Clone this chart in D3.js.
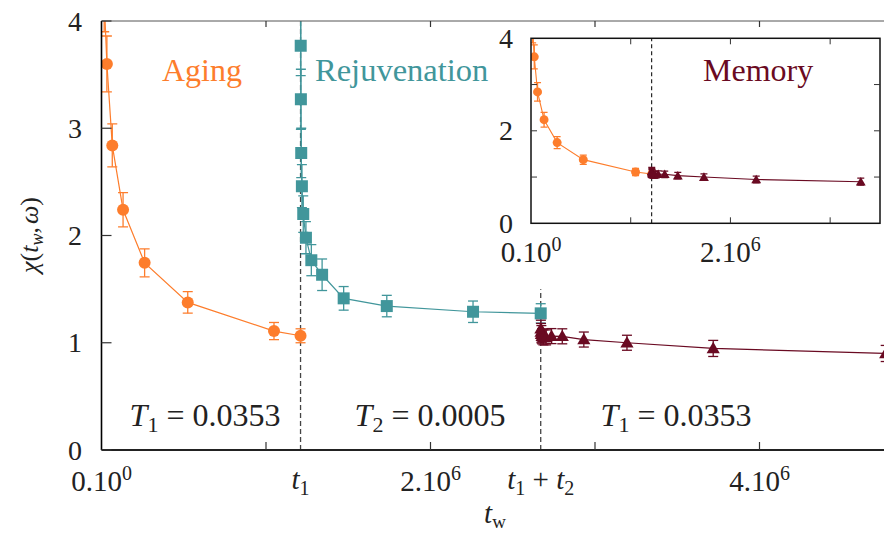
<!DOCTYPE html>
<html><head><meta charset="utf-8">
<script src="https://cdn.jsdelivr.net/npm/d3@7"></script>
<style>
html,body{margin:0;padding:0;background:#fff;}
</style></head>
<body>
<svg id="chart" width="884" height="536"></svg>
<script>
// ---- data ----
const t1 = 1.21e6, t2 = 1.46e6;
const agingT   = [16384, 32768, 65536, 131072, 262144, 524288, 1048576, 1210000];
const agingChi = [4.20, 3.60, 2.84, 2.24, 1.745, 1.376, 1.109, 1.065];
const agingErr = [0.30, 0.26, 0.20, 0.16, 0.13, 0.10, 0.08, 0.065];
const rejuvDt  = [512, 1024, 2048, 4096, 8192, 16384, 32768, 65536, 131072, 262144, 524288, 1048576, 1460000];
const rejuvChi = [4.40, 3.77, 3.27, 2.77, 2.46, 2.20, 1.98, 1.77, 1.634, 1.414, 1.342, 1.289, 1.274];
const rejuvErr = [0.30, 0.28, 0.28, 0.23, 0.20, 0.17, 0.15, 0.145, 0.147, 0.11, 0.10, 0.10, 0.09];
const memoryDt  = [1024, 2048, 4096, 8192, 16384, 32768, 65536, 131072, 262144, 524288, 1048576, 2097152];
const memoryChi = [1.13, 1.10, 1.08, 1.06, 1.05, 1.05, 1.062, 1.06, 1.03, 1.00, 0.947, 0.90];
const memoryErr = [0.08, 0.08, 0.08, 0.07, 0.07, 0.07, 0.07, 0.07, 0.07, 0.07, 0.075, 0.075];
const yTicks = [0, 1, 2, 3, 4];
const xTicks = [0, 1e6, 2e6, 3e6, 4e6];
const xTickLabels = [["0.10", "0"], null, ["2.10", "6"], null, ["4.10", "6"]];
const insetYTicks = [0, 1, 2, 3, 4];
const insetYLabels = ["0", null, "2", null, "4"];
const insetXTicks = [0, 1e6, 2e6, 3e6];
const insetXLabels = [["0.10", "0"], null, ["2.10", "6"], null];

const cOrange = "#fd7d2c", cTeal = "#41969b", cMaroon = "#6a0a22";
const FONT = "'Liberation Serif', 'Times New Roman', 'DejaVu Serif', serif";

const aging = agingT.map((t, i) => ({t, v: agingChi[i], e: agingErr[i]}));
const rejuv = rejuvDt.map((d, i) => ({t: t1 + d, v: rejuvChi[i], e: rejuvErr[i]}));
const memory = memoryDt.map((d, i) => ({t: t1 + t2 + d, v: memoryChi[i], e: memoryErr[i]}));

const svg = d3.select("#chart").attr("font-family", FONT);
const defs = svg.append("defs");

// ---- main scales ----
const L = 101.5, T = 21, B = 450;
const x = d3.scaleLinear().domain([0, 5e6]).range([L, 924]);
const y = d3.scaleLinear().domain([0, 4]).range([B, T]);

defs.append("clipPath").attr("id", "mainClip").append("rect")
  .attr("x", L).attr("y", T).attr("width", 884 - L).attr("height", B - T);

const main = svg.append("g");
const plot = main.append("g").attr("clip-path", "url(#mainClip)");

function txt(g) { return g.append("text").attr("font-family", FONT); }

// dashed lines
plot.append("line").attr("x1", x(t1)).attr("x2", x(t1)).attr("y1", y(0)).attr("y2", y(4))
  .attr("stroke", "#444").attr("stroke-width", 1.3).attr("stroke-dasharray", "5,3");
plot.append("line").attr("x1", x(t1 + t2)).attr("x2", x(t1 + t2)).attr("y1", y(0)).attr("y2", y(1.5))
  .attr("stroke", "#444").attr("stroke-width", 1.3).attr("stroke-dasharray", "5,3");

function drawSeries(g, data, xs, ys, color, shape, size, lw, capW) {
  const line = d3.line().x(d => xs(d.t)).y(d => ys(d.v));
  g.append("path").datum(data).attr("d", line).attr("fill", "none")
    .attr("stroke", color).attr("stroke-width", lw);
  const eb = g.append("g").attr("stroke", color).attr("stroke-width", 1.3);
  data.forEach(d => {
    const cx = xs(d.t);
    eb.append("line").attr("x1", cx).attr("x2", cx).attr("y1", ys(d.v - d.e)).attr("y2", ys(d.v + d.e));
    eb.append("line").attr("x1", cx - capW / 2).attr("x2", cx + capW / 2).attr("y1", ys(d.v - d.e)).attr("y2", ys(d.v - d.e));
    eb.append("line").attr("x1", cx - capW / 2).attr("x2", cx + capW / 2).attr("y1", ys(d.v + d.e)).attr("y2", ys(d.v + d.e));
  });
  const sym = d3.symbol().type(shape).size(size);
  g.append("g").selectAll("path").data(data).join("path")
    .attr("d", sym)
    .attr("transform", d => shape === d3.symbolTriangle
      ? `translate(${xs(d.t)},${ys(d.v) + 1})` : `translate(${xs(d.t)},${ys(d.v)})`)
    .attr("fill", color);
}

drawSeries(plot, aging, x, y, cOrange, d3.symbolCircle, Math.PI * 36, 1.2, 10);
drawSeries(plot, rejuv, x, y, cTeal, d3.symbolSquare, 144, 1.2, 10);
drawSeries(plot, memory, x, y, cMaroon, d3.symbolTriangle, 75, 1.2, 10);

// axes lines
main.append("line").attr("x1", L).attr("x2", 884).attr("y1", T).attr("y2", T).attr("stroke", "#555").attr("stroke-width", 1);
main.append("line").attr("x1", L).attr("x2", L).attr("y1", T).attr("y2", B).attr("stroke", "#000").attr("stroke-width", 1.6);
main.append("line").attr("x1", L).attr("x2", 884).attr("y1", B).attr("y2", B).attr("stroke", "#222").attr("stroke-width", 2.2);

// ticks
yTicks.forEach(v => {
  main.append("line").attr("x1", L).attr("x2", L + 10).attr("y1", y(v)).attr("y2", y(v)).attr("stroke", "#333").attr("stroke-width", 1.2);
  txt(main).attr("x", 82).attr("y", y(v)).attr("dy", "0.34em").attr("text-anchor", "end")
    .attr("font-size", 28).attr("fill", "#222").text(v);
});
xTicks.forEach((v, i) => {
  if (v > 0) {
    main.append("line").attr("x1", x(v)).attr("x2", x(v)).attr("y1", B).attr("y2", B - 8).attr("stroke", "#333").attr("stroke-width", 1.2);
    main.append("line").attr("x1", x(v)).attr("x2", x(v)).attr("y1", T).attr("y2", T + 6).attr("stroke", "#333").attr("stroke-width", 1.2);
  }
  const lab = xTickLabels[i];
  if (lab) {
    const tx = txt(main).attr("x", x(v)).attr("y", 491).attr("text-anchor", "middle")
      .attr("font-size", 29).attr("fill", "#222");
    tx.append("tspan").text(lab[0]);
    tx.append("tspan").attr("dy", -11).attr("font-size", 20).text(lab[1]);
  }
});
// t1, t1+t2 labels
{
  const a = txt(main).attr("x", x(t1)).attr("y", 489).attr("text-anchor", "middle").attr("font-size", 29).attr("fill", "#222");
  a.append("tspan").attr("font-style", "italic").text("t");
  a.append("tspan").attr("dy", 6).attr("font-size", 20).text("1");
  const b = txt(main).attr("x", x(t1 + t2)).attr("y", 489).attr("text-anchor", "middle").attr("font-size", 29).attr("fill", "#222");
  b.append("tspan").attr("font-style", "italic").text("t");
  b.append("tspan").attr("dy", 6).attr("font-size", 20).text("1");
  b.append("tspan").attr("dy", -6).text(" + ");
  b.append("tspan").attr("font-style", "italic").text("t");
  b.append("tspan").attr("dy", 6).attr("font-size", 20).text("2");
}
// axis titles
{
  const xt = txt(main).attr("x", 495).attr("y", 523).attr("text-anchor", "middle").attr("font-size", 29).attr("fill", "#222");
  xt.append("tspan").attr("font-style", "italic").text("t");
  xt.append("tspan").attr("dy", 5).attr("font-size", 19).text("w");
  const yt = txt(main).attr("transform", "translate(38,235) rotate(-90)").attr("text-anchor", "middle")
    .attr("font-size", 26).attr("fill", "#222");
  yt.append("tspan").attr("font-style", "italic").text("χ");
  yt.append("tspan").text("(");
  yt.append("tspan").attr("font-style", "italic").text("t");
  yt.append("tspan").attr("dy", 5).attr("font-size", 18).attr("font-style", "italic").text("w");
  yt.append("tspan").attr("dy", -5).text(",");
  yt.append("tspan").attr("font-style", "italic").attr("dx", 3).text("ω");
  yt.append("tspan").text(")");
}
// region annotations
function tempLabel(cx, sub, val) {
  const t = txt(main).attr("x", cx).attr("y", 426).attr("text-anchor", "middle").attr("font-size", 32).attr("fill", "#222");
  t.append("tspan").attr("font-style", "italic").text("T");
  t.append("tspan").attr("dy", 6).attr("font-size", 22).text(sub);
  t.append("tspan").attr("dy", -6).text(" = " + val);
}
tempLabel(205, "1", "0.0353");
tempLabel(430, "2", "0.0005");
tempLabel(676, "1", "0.0353");
txt(main).attr("x", 162).attr("y", 81).attr("font-size", 32).attr("fill", cOrange).text("Aging");
txt(main).attr("x", 315).attr("y", 81).attr("font-size", 32.5).attr("fill", cTeal).text("Rejuvenation");

// ---- inset ----
const iL = 531, iR = 880, iT = 38.3, iB = 223.3;
const ix = d3.scaleLinear().domain([0, 3.5e6]).range([iL, iR]);
const iy = d3.scaleLinear().domain([0, 4]).range([iB, iT]);
const inset = svg.append("g");
inset.append("rect").attr("x", iL).attr("y", iT).attr("width", iR - iL).attr("height", iB - iT).attr("fill", "#fff");
defs.append("clipPath").attr("id", "insetClip").append("rect")
  .attr("x", iL).attr("y", iT).attr("width", iR - iL).attr("height", iB - iT);
const iplot = inset.append("g").attr("clip-path", "url(#insetClip)");
iplot.append("line").attr("x1", ix(t1)).attr("x2", ix(t1)).attr("y1", iy(0)).attr("y2", iy(4))
  .attr("stroke", "#111").attr("stroke-width", 1.1).attr("stroke-dasharray", "4,3");
const memShift = memory.map(d => ({t: d.t - t2, v: d.v, e: d.e}));
drawSeries(iplot, aging, ix, iy, cOrange, d3.symbolCircle, Math.PI * 20, 1.1, 7);
drawSeries(iplot, memShift, ix, iy, cMaroon, d3.symbolTriangle, 42, 1.1, 7);
inset.append("rect").attr("x", iL).attr("y", iT).attr("width", iR - iL).attr("height", iB - iT)
  .attr("fill", "none").attr("stroke", "#111").attr("stroke-width", 1.5);
insetYTicks.forEach((v, i) => {
  if (v > 0 && v < 4) {
    inset.append("line").attr("x1", iL).attr("x2", iL + 6).attr("y1", iy(v)).attr("y2", iy(v)).attr("stroke", "#333");
    inset.append("line").attr("x1", iR).attr("x2", iR - 6).attr("y1", iy(v)).attr("y2", iy(v)).attr("stroke", "#333");
  }
  if (insetYLabels[i]) txt(inset).attr("x", 513).attr("y", iy(v)).attr("dy", "0.34em")
    .attr("text-anchor", "end").attr("font-size", 28).attr("fill", "#222").text(insetYLabels[i]);
});
insetXTicks.forEach((v, i) => {
  if (v > 0) {
    inset.append("line").attr("x1", ix(v)).attr("x2", ix(v)).attr("y1", iB).attr("y2", iB - 6).attr("stroke", "#333");
    inset.append("line").attr("x1", ix(v)).attr("x2", ix(v)).attr("y1", iT).attr("y2", iT + 6).attr("stroke", "#333");
  }
  const lab = insetXLabels[i];
  if (lab) {
    const tx = txt(inset).attr("x", ix(v)).attr("y", 262).attr("text-anchor", "middle")
      .attr("font-size", 29).attr("fill", "#222");
    tx.append("tspan").text(lab[0]);
    tx.append("tspan").attr("dy", -11).attr("font-size", 20).text(lab[1]);
  }
});
txt(inset).attr("x", 703).attr("y", 81).attr("font-size", 32).attr("fill", cMaroon).text("Memory");
</script>
</body></html>
